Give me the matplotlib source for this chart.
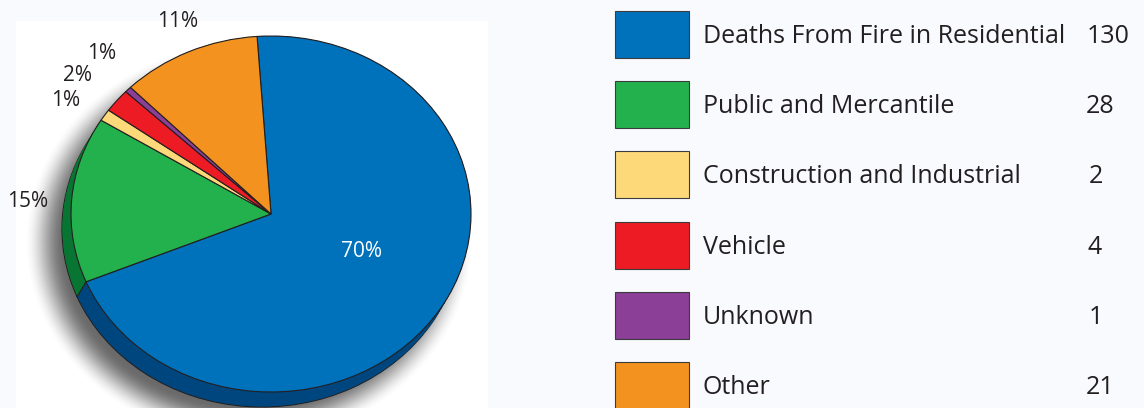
import numpy as np
import matplotlib
matplotlib.use("Agg")
import matplotlib.pyplot as plt
from matplotlib.patches import Rectangle

# Fire deaths by property type
categories = ["Deaths From Fire in Residential", "Public and Mercantile",
              "Construction and Industrial", "Vehicle", "Unknown", "Other"]
deaths = [130, 28, 2, 4, 1, 21]

face_colors = ["#0071bb", "#23b14d", "#fdd97a", "#ed1c24", "#8b3f97", "#f3921e"]
side_colors = ["#00467e", "#087532", "#c9a94a", "#b3151b", "#62286c", "#b86c12"]

# percent labels: (x, baseline y) in pixels
pct_pos = [(362, 257), (28, 207), (66, 106), (77, 81), (102, 59), (178, 27)]
pct_colors = ["white", "#231f20", "#231f20", "#231f20", "#231f20", "#231f20"]
# left edge of each value in the legend column
value_x = [1087, 1086, 1089, 1088, 1089, 1086]

FONT = "Open Sans"
INK = "#231f20"

W, H, DPI = 1144, 408, 100
fig = plt.figure(figsize=(W / DPI, H / DPI), dpi=DPI, facecolor="#f8fafd")

# background layer in pixel coordinates
bg = fig.add_axes([0, 0, 1, 1])
bg.set_xlim(0, W)
bg.set_ylim(H, 0)
bg.axis("off")
panel = Rectangle((16, 21), 472, 400, facecolor="white", edgecolor="none", zorder=0)
bg.add_patch(panel)

# pie geometry (pixels): centre, radii and extrusion offset
cx, cy, rx, ry = 271, 214, 200, 178
depth_dx, depth_dy = -9, 15

# soft drop shadow under the pie, thrown down and to the left
yy, xx = np.mgrid[0:H, 0:W] + 0.5
rr = np.hypot((xx - (cx - 22)) / (rx + 4), (yy - (cy + 28)) / (ry + 4))
t = np.clip((1.10 - rr) / 0.20, 0, 1)
shadow = np.zeros((H, W, 4))
shadow[..., :3] = 0.22
shadow[..., 3] = 0.75 * t * t * (3 - 2 * t)
im = bg.imshow(shadow, extent=(0, W, H, 0), interpolation="bilinear", zorder=1, aspect="auto")
im.set_clip_path(panel)
bg.set_xlim(0, W)
bg.set_ylim(H, 0)

# pie layer: unit circle maps onto the tilted ellipse
pa = fig.add_axes([0, 0, 1, 1])
pa.patch.set_alpha(0)
start = 94
ddx, ddy = depth_dx / rx, -depth_dy / ry

# extruded side, built up from the bottom
steps = np.linspace(1, 0, 26)
for i, k in enumerate(steps):
    lw = 0.8 if i == 0 else 0
    pa.pie(deaths, colors=side_colors, startangle=start, counterclock=False,
           radius=1, center=(k * ddx, k * ddy),
           wedgeprops=dict(linewidth=lw, edgecolor=INK))

# vertical seams where wedge boundaries meet the visible side
total = sum(deaths)
bounds = start - 360 * np.cumsum(deaths) / total
for b in bounds:
    ux, uy = np.cos(np.radians(b)), np.sin(np.radians(b))
    if ux * ddx + uy * ddy > 0:
        pa.plot([ux, ux + ddx], [uy, uy + ddy], color=INK, lw=0.8, zorder=5)

# top face
pa.pie(deaths, colors=face_colors, startangle=start, counterclock=False,
       radius=1, center=(0, 0),
       wedgeprops=dict(linewidth=0.8, edgecolor=INK))

pa.set_aspect("auto")
pa.set_xlim(-cx / rx, (W - cx) / rx)
pa.set_ylim(-(H - cy) / ry, cy / ry)
pa.axis("off")

# percentage labels
for v, (px, py), c in zip(deaths, pct_pos, pct_colors):
    pa.text(px, py, f"{round(100 * v / total):.0f}%", transform=bg.transData,
            ha="center", va="baseline", fontsize=15, color=c, family=FONT, zorder=10)

# legend column
box_x, box_y0, box_w, box_h, pitch = 615, 11, 74, 47, 70.2
for i, (name, v, c) in enumerate(zip(categories, deaths, face_colors)):
    y0 = box_y0 + pitch * i
    bg.add_patch(Rectangle((box_x, y0), box_w, box_h, facecolor=c,
                           edgecolor="#3c3c3c", linewidth=0.8, zorder=3))
    base = y0 + box_h / 2 + 8.5
    bg.text(703, base, name, ha="left", va="baseline", fontsize=18,
            color=INK, family=FONT)
    bg.text(value_x[i], base, str(v), ha="left", va="baseline", fontsize=18,
            color=INK, family=FONT)

fig.savefig("out.png", dpi=DPI, facecolor=fig.get_facecolor())
